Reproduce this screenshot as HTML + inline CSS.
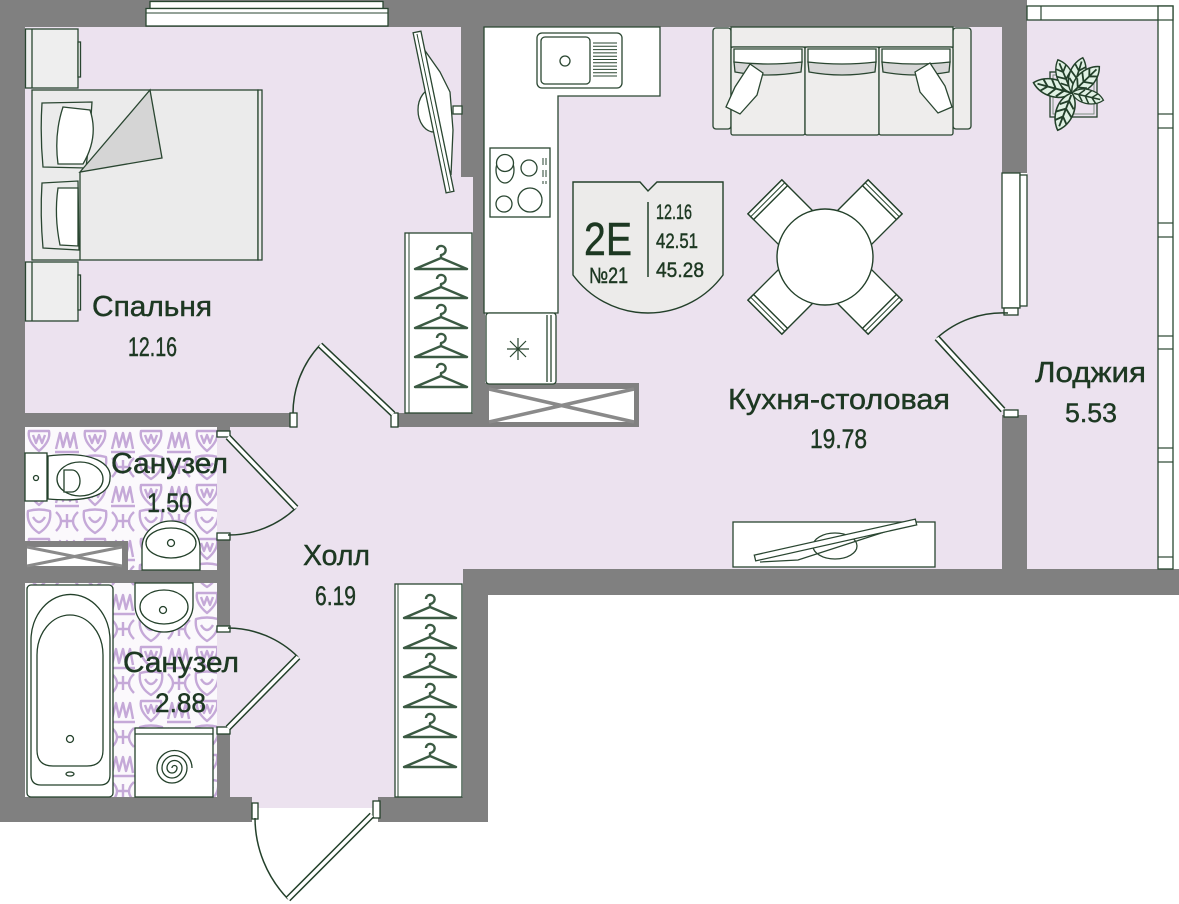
<!DOCTYPE html>
<html><head><meta charset="utf-8">
<style>
html,body{margin:0;padding:0;background:#fff;}
svg{display:block;}
text{font-family:"Liberation Sans","DejaVu Sans",sans-serif;fill:#1d3822;stroke:#1d3822;stroke-width:0.45px;}
</style></head><body>
<svg width="1179" height="904" viewBox="0 0 1179 904" xmlns="http://www.w3.org/2000/svg">
<defs>
 <pattern id="tile" x="25" y="427" width="56" height="54" patternUnits="userSpaceOnUse">
  <rect width="56" height="54" fill="#fbf9fc"/>
  <g fill="none" stroke="#c5a9d8" stroke-width="2.4" stroke-linejoin="round">
   <path d="M4,4 L24,4 Q26,14 14,24 Q2,14 4,4 Z"/>
   <path d="M8,8 L11,16 L14,8 L17,16 L20,8"/>
   <path d="M31,22 L35,6 L38,20 L42,6 L45,20 L49,6 L52,22"/>
   <path d="M30,25 L54,25"/>
   <path d="M3,30 Q14,27 25,30 Q27,44 14,52 Q1,44 3,30 Z"/>
   <path d="M8,36 Q14,46 20,36"/>
   <path d="M31,31 Q41,40 31,50 M53,31 Q43,40 53,50"/>
   <path d="M36,40 L48,40 M42,33 L42,47"/>
  </g>
 </pattern>
 <g id="hg"><path d="M-26,0 L0,-11 L26,0 Z M0,-11 L0,-14 C6,-15 6,-22 1,-23 C-2,-23.5 -4,-21.5 -4,-19" fill="none" stroke="#3b5a43" stroke-width="2.4" stroke-linejoin="round"/></g>
 <g id="chair">
  <rect x="-24" y="-85" width="48" height="45" fill="#fff" stroke="#23402a" stroke-width="1.4"/>
  <rect x="-24" y="-85" width="48" height="8" fill="#fff" stroke="#23402a" stroke-width="1.4"/>
  <line x1="-24" y1="-81" x2="24" y2="-81" stroke="#23402a" stroke-width="1"/>
 </g>
 <g id="leaf">
  <path d="M0,0 C11,-8 11,-28 0,-38 C-11,-28 -11,-8 0,0 Z" fill="#e0f1e4" stroke="#23402a" stroke-width="1.5"/>
  <path d="M0,-2 L0,-34 M0,-8 L7,-14 M0,-8 L-7,-14 M0,-16 L8,-22 M0,-16 L-8,-22 M0,-24 L6,-30 M0,-24 L-6,-30" stroke="#23402a" stroke-width="1.8" fill="none"/>
 </g>
</defs>

<!-- floors -->
<rect x="25" y="27" width="977" height="542" fill="#ece2ef"/>
<rect x="217" y="427" width="246" height="381" fill="#ece2ef"/>
<rect x="1027" y="20" width="133" height="549" fill="#ece2ef"/>
<rect x="1002" y="300" width="25" height="120" fill="#ece2ef"/>
<rect x="25" y="427" width="192" height="143" fill="url(#tile)"/>
<rect x="25" y="583" width="192" height="214" fill="url(#tile)"/>

<!-- walls -->
<g fill="#808080">
 <rect x="0" y="0" width="1027" height="27"/>
 <rect x="0" y="0" width="25" height="822"/>
 <rect x="0" y="797" width="252" height="25"/>
 <rect x="378" y="797" width="110" height="25"/>
 <rect x="463" y="569" width="25" height="253"/>
 <rect x="463" y="569" width="716" height="26"/>
 <rect x="1002" y="0" width="25" height="173"/>
 <rect x="1002" y="415" width="25" height="180"/>
 <rect x="461" y="27" width="24" height="150"/>
 <rect x="473" y="177" width="12" height="250"/>
 <rect x="25" y="413" width="268" height="14"/>
 <rect x="394" y="413" width="91" height="14"/>
 <rect x="217" y="427" width="13" height="5"/>
 <rect x="217" y="540" width="13" height="87"/>
 <rect x="217" y="734" width="13" height="63"/>
 <rect x="25" y="570" width="192" height="13"/>
 <rect x="25" y="541" width="103" height="30"/>
 <rect x="485" y="383" width="154" height="44"/>
</g>
<!-- vents -->
<rect x="27" y="547" width="95" height="19" fill="#fff"/>
<path d="M27,547 L122,566 M27,566 L122,547" stroke="#8a8a8a" stroke-width="3"/>
<rect x="489" y="389" width="145" height="33" fill="#fff"/>
<path d="M489,389 L634,422 M489,422 L634,389" stroke="#8a8a8a" stroke-width="3.5"/>

<!-- windows -->
<g fill="#fff" stroke="#2a4631" stroke-width="1.3">
 <rect x="150" y="1.5" width="233" height="7"/>
 <rect x="146" y="8.5" width="242" height="17.5"/>
 <rect x="1002" y="173" width="18" height="135"/>
 <rect x="1020" y="175" width="7" height="131"/>
 <rect x="1027" y="6" width="146" height="14"/>
 <rect x="1158" y="6" width="15" height="563"/>
</g>
<line x1="146" y1="13" x2="388" y2="13" stroke="#2a4631" stroke-width="1"/>
<g stroke="#2a4631" stroke-width="1.2">
 <line x1="1041" y1="6" x2="1041" y2="20"/>
 <line x1="1158" y1="20" x2="1173" y2="20"/>
 <line x1="1158" y1="114" x2="1173" y2="114"/><line x1="1158" y1="128" x2="1173" y2="128"/>
 <line x1="1158" y1="223" x2="1173" y2="223"/><line x1="1158" y1="237" x2="1173" y2="237"/>
 <line x1="1158" y1="336" x2="1173" y2="336"/><line x1="1158" y1="349" x2="1173" y2="349"/>
 <line x1="1158" y1="448" x2="1173" y2="448"/><line x1="1158" y1="462" x2="1173" y2="462"/>
 <line x1="1158" y1="557" x2="1173" y2="557"/>
</g>

<!-- door jambs -->
<g fill="#fff" stroke="#23402a" stroke-width="1.3">
 <rect x="290" y="413" width="7" height="14"/>
 <rect x="391" y="413" width="7" height="14"/>
 <rect x="217" y="431" width="13" height="6"/>
 <rect x="217" y="533" width="13" height="7"/>
 <rect x="217" y="626" width="13" height="6"/>
 <rect x="217" y="727" width="13" height="7"/>
 <rect x="252" y="803" width="6" height="16"/>
 <rect x="373" y="801" width="7" height="17"/>
 <rect x="1004" y="308" width="14" height="7"/>
 <rect x="1004" y="410" width="14" height="7"/>
</g>
<!-- doors -->
<g fill="none" stroke="#23402a" stroke-width="1.5">
 <path d="M320,345 A100,100 0 0 0 293,413"/>
 <path d="M296,508 A98,98 0 0 1 228,535"/>
 <path d="M228,628 A100,100 0 0 1 298,657"/>
 <path d="M255,818 A117,117 0 0 0 288,899"/>
 <path d="M937,338 A98,98 0 0 1 1008,313"/>
</g>
<g stroke-linecap="butt">
 <line x1="393" y1="414" x2="320" y2="345" stroke="#23402a" stroke-width="6.5"/>
 <line x1="393" y1="414" x2="320" y2="345" stroke="#fff" stroke-width="3.5"/>
 <line x1="228" y1="437" x2="296" y2="508" stroke="#23402a" stroke-width="6.5"/>
 <line x1="228" y1="437" x2="296" y2="508" stroke="#fff" stroke-width="3.5"/>
 <line x1="228" y1="728" x2="298" y2="657" stroke="#23402a" stroke-width="6.5"/>
 <line x1="228" y1="728" x2="298" y2="657" stroke="#fff" stroke-width="3.5"/>
 <line x1="372" y1="815" x2="288" y2="899" stroke="#23402a" stroke-width="6.5"/>
 <line x1="372" y1="815" x2="288" y2="899" stroke="#fff" stroke-width="3.5"/>
 <line x1="1003" y1="410" x2="937" y2="338" stroke="#23402a" stroke-width="6.5"/>
 <line x1="1003" y1="410" x2="937" y2="338" stroke="#fff" stroke-width="3.5"/>
</g>

<!-- bedroom furniture -->
<g stroke="#2a4631" stroke-width="1.3">
 <rect x="25.5" y="29" width="52.5" height="59" fill="#eeeeee"/>
 <line x1="32" y1="29" x2="32" y2="88"/>
 <rect x="78" y="42" width="2.5" height="35" fill="#eeeeee"/>
 <rect x="25.5" y="262" width="52.5" height="59" fill="#eeeeee"/>
 <line x1="32" y1="262" x2="32" y2="321"/>
 <rect x="78" y="275" width="2.5" height="35" fill="#eeeeee"/>
 <rect x="32" y="90" width="226" height="170" fill="#ebebeb"/>
 <rect x="258" y="90" width="4" height="170" fill="#ebebeb"/>
 <line x1="80" y1="172" x2="80" y2="260"/>
 <path d="M42,103 L92,102 Q90,135 86,168 L43,167 Q40,135 42,103 Z" fill="#ebebeb"/>
 <path d="M63,107 L90,110 Q99,137 83,164 L58,164 Q54,134 63,107 Z" fill="#fff"/>
 <path d="M42,183 L78,181 L79,250 L43,248 Q40,215 42,183 Z" fill="#ebebeb"/>
 <path d="M58,188 L78,188 L78,246 L60,245 Q54,216 58,188 Z" fill="#fff"/>
 <path d="M80,172 L150,90 L162,158 Z" fill="#d5d5d5"/>
 <!-- tv -->
 <ellipse cx="434" cy="110" rx="16" ry="22" fill="#fff"/>
 <path d="M421,45 L440,72 L450,92 L453,130 L451,175" fill="#fff"/>
 <rect x="453" y="106" width="9" height="8" fill="#fff"/>
 <polygon points="413.1,32.8 420.9,31.2 453.9,191.2 446.1,192.8" fill="#fff"/>
 <line x1="417" y1="34" x2="450" y2="191" stroke-width="1"/>
 <!-- wardrobe -->
 <rect x="405" y="233" width="67" height="180" fill="#fff"/>
 <line x1="409" y1="233" x2="409" y2="413" stroke-width="1"/>
 <rect x="395" y="584" width="67" height="213" fill="#fff"/>
 <line x1="398" y1="584" x2="398" y2="797" stroke-width="1"/>
</g>
<use href="#hg" x="441" y="269"/><use href="#hg" x="441" y="298"/><use href="#hg" x="441" y="328"/><use href="#hg" x="441" y="357"/><use href="#hg" x="441" y="387"/>
<use href="#hg" x="430" y="618"/><use href="#hg" x="430" y="648"/><use href="#hg" x="430" y="677"/><use href="#hg" x="430" y="707"/><use href="#hg" x="430" y="737"/><use href="#hg" x="430" y="767"/>

<!-- kitchen -->
<g stroke="#2a4631" stroke-width="1.3">
 <path d="M484,27 H660 V96 H558 V313 H484 Z" fill="#fff"/>
 <rect x="537" y="33" width="85" height="55" rx="5" fill="#fff"/>
 <rect x="541" y="37" width="49" height="47" rx="4" fill="#fff"/>
 <circle cx="565" cy="61" r="5" fill="#fff"/>
 <path d="M593,43 H617 M593,46.3 H617 M593,49.6 H617 M593,52.9 H617 M593,56.2 H617 M593,59.5 H617 M593,62.8 H617 M593,66.1 H617 M593,69.4 H617 M593,72.7 H617 M593,76 H617" stroke-width="1"/>
 <rect x="490" y="148" width="60" height="69" fill="#fff"/>
 <ellipse cx="505" cy="170" rx="9" ry="13" fill="#fff"/>
 <circle cx="505" cy="163" r="8.5" fill="#fff"/>
 <circle cx="529" cy="168" r="8" fill="#fff"/>
 <circle cx="504" cy="204" r="8" fill="#fff"/>
 <circle cx="530" cy="200" r="12" fill="#fff"/>
 <path d="M543,158 V165 M546,158 V165 M543,170 V177 M546,170 V177 M543,181 V184 M546,181 V184" stroke-width="1"/>
 <rect x="486" y="313" width="70" height="71" rx="3" fill="#fff"/>
 <line x1="547" y1="315" x2="547" y2="382"/>
 <line x1="551" y1="315" x2="551" y2="382"/>
 <path d="M518,338 V360 M507,349 H529 M510,341 L526,357 M526,341 L510,357" stroke-width="1.2"/>
 <!-- sofa -->
 <rect x="713" y="28" width="18" height="101" rx="3" fill="#eeedec"/>
 <rect x="953" y="28" width="18" height="101" rx="3" fill="#eeedec"/>
 <rect x="731" y="27" width="222" height="20" fill="#eeedec"/>
 <rect x="731" y="47" width="74" height="88" rx="2" fill="#eeedec"/>
 <rect x="805" y="47" width="74" height="88" rx="2" fill="#eeedec"/>
 <rect x="879" y="47" width="74" height="88" rx="2" fill="#eeedec"/>
 <path d="M734,62 L802,62 L801,72 Q768,78 735,72 Z" fill="#d6d6d6"/>
 <path d="M734,49 L802,49 L802,62 Q768,66 734,62 Z" fill="#fff"/>
 <path d="M808,62 L876,62 L875,72 Q842,78 809,72 Z" fill="#d6d6d6"/>
 <path d="M808,49 L876,49 L876,62 Q842,66 808,62 Z" fill="#fff"/>
 <path d="M882,62 L950,62 L949,72 Q916,78 883,72 Z" fill="#d6d6d6"/>
 <path d="M882,49 L950,49 L950,62 Q916,66 882,62 Z" fill="#fff"/>
 <polygon points="750,64 763,73 757,95 740,114 726,107 735,87" fill="#fff"/>
 <polygon points="930,63 915,72 920,92 938,113 952,107 945,86" fill="#fff"/>
 <!-- tv -->
 <rect x="733" y="522" width="202" height="45" fill="#fff"/>
 <ellipse cx="835" cy="546" rx="22" ry="13" fill="#fff"/>
 <polyline points="760,562 798,560 900,527 916,523" fill="none"/>
 <polygon points="754.3,555.1 915.3,519.1 916.7,524.9 755.7,560.9" fill="#fff"/>
</g>
<!-- table -->
<g transform="translate(825,257)">
 <use href="#chair" transform="rotate(-45)"/>
 <use href="#chair" transform="rotate(45)"/>
 <use href="#chair" transform="rotate(135)"/>
 <use href="#chair" transform="rotate(-135)"/>
 <circle cx="0" cy="0" r="48" fill="#fff" stroke="#23402a" stroke-width="1.4"/>
</g>

<!-- plant -->
<rect x="1050" y="72" width="47" height="45" fill="none" stroke="#23402a" stroke-width="1.3"/>
<rect x="1053" y="75" width="41" height="39" fill="none" stroke="#7d8f80" stroke-width="1"/>
<g transform="translate(1072,93)">
 <use href="#leaf" transform="rotate(-75) scale(1.05)"/>
 <use href="#leaf" transform="rotate(-23) scale(0.95)"/>
 <use href="#leaf" transform="rotate(17) scale(0.97)"/>
 <use href="#leaf" transform="rotate(46) scale(1.0)"/>
 <use href="#leaf" transform="rotate(103) scale(0.85)"/>
 <use href="#leaf" transform="rotate(-159) scale(1.05)"/>
</g>

<!-- bathrooms -->
<g stroke="#23402a" stroke-width="1.3">
 <rect x="25" y="453" width="22" height="48" fill="#fff"/>
 <circle cx="36" cy="478" r="2.5" fill="none"/>
 <path d="M48,456 C95,450 112,465 110,478 C110,492 95,503 48,499 Z" fill="#fff"/>
 <ellipse cx="80" cy="479" rx="23" ry="17" fill="#fff"/>
 <path d="M64,470 L72,470 A8,11 0 0 1 72,492 L64,492 Z" fill="#fff"/>
 <path d="M142,570 L142,548 A29,27 0 0 1 200,548 L200,570 Z" fill="#fff"/>
 <ellipse cx="171" cy="543" rx="25" ry="15" fill="#fff"/>
 <circle cx="171" cy="543" r="3.5" fill="#fff"/>
 <path d="M135,583 L193,583 L193,605 A29,27 0 0 1 135,605 Z" fill="#fff"/>
 <ellipse cx="164" cy="607" rx="24" ry="17" fill="#fff"/>
 <circle cx="163" cy="610" r="3.5" fill="#fff"/>
 <rect x="27" y="585" width="86" height="212" rx="4" fill="#fff"/>
 <path d="M31,640 A39,45 0 0 1 110,640 L110,775 Q110,785 100,785 L41,785 Q31,785 31,775 Z" fill="#fff"/>
 <path d="M37,655 A33,40 0 0 1 103,655 L103,750 Q103,766 87,766 L53,766 Q37,766 37,750 Z" fill="#fff"/>
 <circle cx="70" cy="739" r="3.5" fill="#fff"/>
 <ellipse cx="70" cy="774" rx="4" ry="2" fill="#fff"/>
 <rect x="135" y="728" width="78" height="69" fill="#fff"/>
 <line x1="135" y1="734" x2="213" y2="734"/>
 <path d="M172,768 a2.5,2.5 0 0 1 5,0 a5,5 0 0 1 -10,0 a7.5,7.5 0 0 1 15,0 a10,10 0 0 1 -20,0 a12.5,12.5 0 0 1 25,0 a15,15 0 0 1 -30,0 a17.5,17.5 0 0 1 35,0" fill="none"/>
</g>

<!-- info badge -->
<path d="M573,182 L640,182 L648,191 L657,182 L723,182 L723,275 A93,93 0 0 1 573,275 Z" fill="#ecebea" stroke="#23402a" stroke-width="1.4"/>
<line x1="648" y1="202" x2="648" y2="277" stroke="#23402a" stroke-width="1.5"/>
<text x="584" y="255" font-size="46" textLength="48" lengthAdjust="spacingAndGlyphs">2E</text>
<text x="589" y="283" font-size="22" textLength="39" lengthAdjust="spacingAndGlyphs">№21</text>
<text x="656" y="219" font-size="21" textLength="36" lengthAdjust="spacingAndGlyphs">12.16</text>
<text x="656" y="248" font-size="21" textLength="42" lengthAdjust="spacingAndGlyphs">42.51</text>
<text x="656" y="277" font-size="21" textLength="48" lengthAdjust="spacingAndGlyphs">45.28</text>

<!-- labels -->
<g font-size="29">
 <text x="92" y="316" textLength="120" lengthAdjust="spacingAndGlyphs">Спальня</text>
 <text x="111" y="473" textLength="117" lengthAdjust="spacingAndGlyphs">Санузел</text>
 <text x="303" y="565" textLength="67" lengthAdjust="spacingAndGlyphs">Холл</text>
 <text x="123" y="672" textLength="116" lengthAdjust="spacingAndGlyphs">Санузел</text>
 <text x="728" y="409" textLength="222" lengthAdjust="spacingAndGlyphs">Кухня-столовая</text>
 <text x="1035" y="382" textLength="111" lengthAdjust="spacingAndGlyphs">Лоджия</text>
</g>
<g font-size="27">
 <text x="128" y="356" textLength="49" lengthAdjust="spacingAndGlyphs">12.16</text>
 <text x="147" y="512" textLength="45" lengthAdjust="spacingAndGlyphs">1.50</text>
 <text x="315" y="605" textLength="41" lengthAdjust="spacingAndGlyphs">6.19</text>
 <text x="155" y="712" textLength="51" lengthAdjust="spacingAndGlyphs">2.88</text>
 <text x="810" y="448" textLength="57" lengthAdjust="spacingAndGlyphs">19.78</text>
 <text x="1065" y="422" textLength="52" lengthAdjust="spacingAndGlyphs">5.53</text>
</g>
</svg>
</body></html>
